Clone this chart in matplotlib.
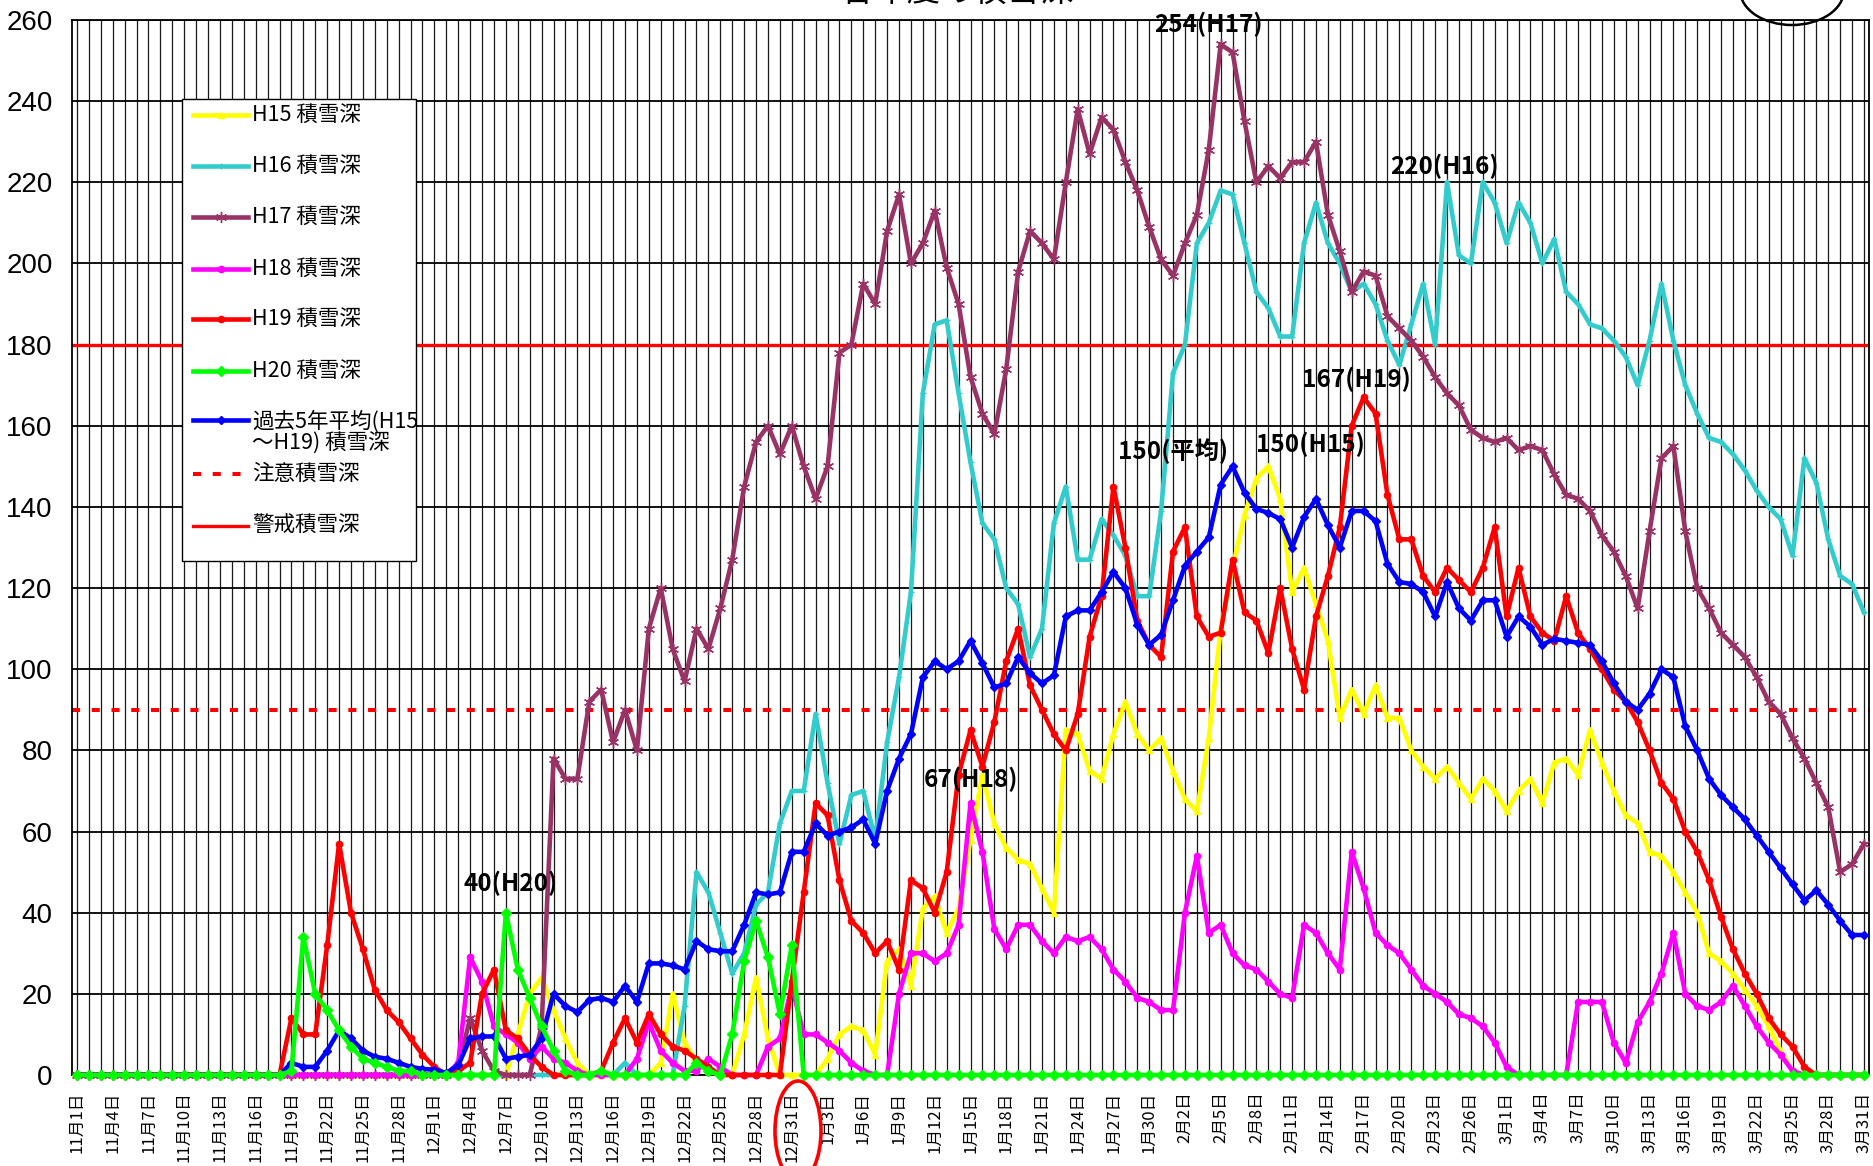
import matplotlib
matplotlib.use("Agg")
import matplotlib.pyplot as plt
import numpy as np
from matplotlib.patches import Ellipse, Rectangle
from matplotlib.lines import Line2D

plt.rcParams['font.family'] = ['Noto Sans CJK JP', 'DejaVu Sans']

# ---------------- data (cm), Nov 1 .. Mar 31 (151 days) ----------------
tick_labels = ["11月1日", "11月4日", "11月7日", "11月10日", "11月13日", "11月16日", "11月19日",
               "11月22日", "11月25日", "11月28日",
               "12月1日", "12月4日", "12月7日", "12月10日", "12月13日", "12月16日", "12月19日",
               "12月22日", "12月25日", "12月28日", "12月31日",
               "1月3日", "1月6日", "1月9日", "1月12日", "1月15日", "1月18日", "1月21日",
               "1月24日", "1月27日", "1月30日",
               "2月2日", "2月5日", "2月8日", "2月11日", "2月14日", "2月17日", "2月20日",
               "2月23日", "2月26日",
               "3月1日", "3月4日", "3月7日", "3月10日", "3月13日", "3月16日", "3月19日",
               "3月22日", "3月25日", "3月28日", "3月31日"]

h15_nov = [0] * 30
h15_dec = [0, 0, 0, 0, 0, 0, 0, 10, 20, 24, 16, 9, 3, 0, 0, 0, 0, 0, 0, 3, 20, 8, 3, 1, 0, 0, 10, 24, 9, 0, 0]
h15_jan = [0, 0, 4, 10, 12, 11, 5, 28, 31, 22, 41, 44, 35, 41, 58, 74, 62, 56, 53, 52, 46, 40, 85, 84, 75, 73,
           84, 92, 84, 80, 83]
h15_feb = [75, 68, 65, 83, 110, 125, 138, 147, 150, 142, 119, 125, 116, 107, 88, 95, 89, 96, 88, 88, 80, 76,
           73, 76, 72, 68, 73, 70]
h15_mar = [65, 70, 73, 67, 77, 78, 74, 85, 77, 70, 64, 62, 55, 54, 50, 45, 40, 30, 28, 25, 21, 17, 12, 6, 1,
           0, 0, 0, 0, 0, 0]

h16_nov = [0] * 30
h16_dec = [0, 0, 0, 0, 0, 0, 0, 0, 0, 0, 0, 0, 0, 0, 0, 0, 3, 0, 0, 0, 0, 17, 50, 45, 35, 25, 30, 42, 45, 62, 70]
h16_jan = [70, 89, 72, 57, 69, 70, 58, 82, 98, 119, 168, 185, 186, 168, 151, 136, 132, 120, 116, 103, 110,
           136, 145, 127, 127, 137, 133, 128, 118, 118, 139]
h16_feb = [173, 180, 205, 210, 218, 217, 205, 193, 189, 182, 182, 205, 215, 205, 200, 193, 195, 190, 181,
           175, 185, 195, 180, 220, 202, 200, 220, 215]
h16_mar = [205, 215, 210, 200, 206, 193, 190, 185, 184, 181, 177, 170, 181, 195, 181, 170, 163, 157, 156,
           153, 149, 144, 140, 137, 128, 152, 146, 132, 123, 121, 114]

h17_nov = [0] * 30
h17_dec = [0, 0, 2, 14, 6, 1, 0, 0, 0, 12, 78, 73, 73, 92, 95, 82, 90, 80, 110, 120, 105, 97, 110, 105, 115,
           127, 145, 156, 160, 153, 160]
h17_jan = [150, 142, 150, 178, 180, 195, 190, 208, 217, 200, 205, 213, 199, 190, 172, 163, 158, 174, 198,
           208, 205, 201, 220, 238, 227, 236, 233, 225, 218, 209, 201]
h17_feb = [197, 205, 212, 228, 254, 252, 235, 220, 224, 221, 225, 225, 230, 212, 203, 193, 198, 197, 187,
           184, 181, 177, 172, 168, 165, 159, 157, 156]
h17_mar = [157, 154, 155, 154, 148, 143, 142, 139, 133, 129, 123, 115, 134, 152, 155, 134, 120, 115, 109,
           106, 103, 98, 92, 89, 83, 78, 72, 66, 50, 52, 57]

h18_nov = [0] * 30
h18_dec = [0, 0, 3, 29, 23, 12, 10, 8, 4, 7, 4, 3, 1, 0, 0, 0, 0, 4, 13, 6, 3, 1, 1, 4, 2, 0, 0, 0, 7, 9, 22]
h18_jan = [10, 10, 8, 6, 3, 1, 0, 0, 20, 30, 30, 28, 30, 37, 67, 55, 36, 31, 37, 37, 33, 30, 34, 33, 34, 31,
           26, 23, 19, 18, 16]
h18_feb = [16, 40, 54, 35, 37, 30, 27, 26, 23, 20, 19, 37, 35, 30, 26, 55, 46, 35, 32, 30, 26, 22, 20, 18,
           15, 14, 12, 8]
h18_mar = [2, 0, 0, 0, 0, 0, 18, 18, 18, 8, 3, 13, 18, 25, 35, 20, 17, 16, 18, 22, 17, 12, 8, 5, 1,
           0, 0, 0, 0, 0, 0]

h19_nov = [0, 0, 0, 0, 0, 0, 0, 0, 0, 0, 0, 0, 0, 0, 0, 0, 0, 0, 14, 10, 10, 32, 57, 40, 31, 21, 16, 13, 9, 5]
h19_dec = [2, 0, 1, 3, 20, 26, 11, 9, 5, 2, 0, 0, 0, 0, 1, 8, 14, 8, 15, 10, 7, 6, 4, 2, 0, 0, 0, 0, 0, 0, 23]
h19_jan = [45, 67, 64, 48, 38, 35, 30, 33, 26, 48, 46, 40, 50, 74, 85, 76, 87, 102, 110, 96, 90, 84, 80, 89,
           108, 118, 145, 130, 112, 106, 103]
h19_feb = [129, 135, 113, 108, 109, 127, 114, 112, 104, 120, 105, 95, 113, 123, 135, 160, 167, 163, 143, 132,
           132, 123, 119, 125, 122, 119, 125, 135]
h19_mar = [113, 125, 113, 109, 107, 118, 109, 105, 100, 95, 92, 87, 80, 72, 68, 60, 55, 48, 39, 31, 25, 20,
           14, 10, 7, 2, 0, 0, 0, 0, 0]

h20_nov = [0, 0, 0, 0, 0, 0, 0, 0, 0, 0, 0, 0, 0, 0, 0, 0, 0, 0, 1, 34, 20, 16, 11, 7, 4, 3, 2, 1, 1, 0]
h20_dec = [0, 0, 0, 0, 0, 0, 40, 26, 19, 12, 6, 1, 0, 0, 1, 0, 0, 0, 0, 0, 0, 0, 3, 1, 0, 10, 28, 38, 29, 15, 32]
h20_jan = [0] * 31
h20_feb = [0] * 28
h20_mar = [0] * 31

avg_nov = [0, 0, 0, 0, 0, 0, 0, 0, 0, 0, 0, 0, 0, 0, 0, 0, 0, 0, 3, 2, 2, 6, 11, 9, 6, 4.5, 4, 3, 2, 1.5]
avg_dec = [1.3, 0.5, 2.4, 9, 9.5, 9.5, 4, 4.5, 5, 9, 20, 17, 15.5, 18.5, 19, 18, 22, 18, 27.5, 27.5, 27, 26,
           33, 31, 30.5, 30.5, 37, 45, 44.5, 45, 55]
avg_jan = [55, 62, 59, 60, 61, 63, 57, 70, 78, 84, 98, 102, 100, 102, 107, 101.5, 95.5, 96.5, 103, 99, 96.5,
           98.5, 113, 114.5, 114.5, 119, 124, 120, 111, 106, 108.5]
avg_feb = [117, 125.5, 129, 132.5, 145.5, 150, 143.5, 139.5, 138.5, 137, 130, 137.5, 142, 135.5, 130, 139,
           139, 136.5, 126, 121.5, 121, 119, 113, 121.5, 115, 112, 117, 117]
avg_mar = [108, 113, 110.5, 106, 107.5, 107, 106.5, 106, 102, 96.5, 92, 90, 94, 100, 98, 86, 80, 73, 69, 66,
           63, 59, 55, 51, 47, 43, 45.5, 42, 38, 34.5, 34.5]

caution_depth = 90
warning_depth = 180

h15 = h15_nov + h15_dec + h15_jan + h15_feb + h15_mar
h16 = h16_nov + h16_dec + h16_jan + h16_feb + h16_mar
h17 = h17_nov + h17_dec + h17_jan + h17_feb + h17_mar
h18 = h18_nov + h18_dec + h18_jan + h18_feb + h18_mar
h19 = h19_nov + h19_dec + h19_jan + h19_feb + h19_mar
h20 = h20_nov + h20_dec + h20_jan + h20_feb + h20_mar
avg = avg_nov + avg_dec + avg_jan + avg_feb + avg_mar

labels = ["H15 積雪深", "H16 積雪深", "H17 積雪深", "H18 積雪深", "H19 積雪深", "H20 積雪深",
          "過去5年平均(H15\n～H19) 積雪深", "注意積雪深", "警戒積雪深"]

annotations = [("254(H17)", 95.0, 259), ("220(H16)", 114.8, 224), ("167(H19)", 107.4, 171.3),
               ("150(平均)", 92.0, 153.8), ("150(H15)", 103.5, 155.5), ("67(H18)", 75.0, 72.9),
               ("40(H20)", 36.4, 47.1)]

# ---------------- figure ----------------
W, H = 1873, 1166
AX_L, AX_R, AX_T, AX_B = 72, 1869, 20, 1075
fig = plt.figure(figsize=(W / 100, H / 100), dpi=100)
ax = fig.add_axes([AX_L / W, (H - AX_B) / H, (AX_R - AX_L) / W, (AX_B - AX_T) / H])


def pax(px, py):
    """pixel position (from top-left of figure) -> axes fraction"""
    return (px - AX_L) / (AX_R - AX_L), (AX_B - py) / (AX_B - AX_T)


x = np.arange(len(h15))
styles = [
    (h15, '#FFFF00', '^', 5),
    (h16, '#33CCCC', '+', 5),
    (h17, '#993366', (6, 2, 0), 8),
    (h18, '#FF00FF', 'o', 4.5),
    (h19, '#FF0000', 'o', 4.5),
    (avg, '#0000FF', 'D', 4),
    (h20, '#00FF00', 'D', 5),
]
for i, (vals, col, mk, ms) in enumerate(styles):
    ax.plot(x, vals, color=col, lw=3.3, marker=mk, ms=ms, mfc=col, mec=col, mew=1.0,
            clip_on=False, zorder=3 + i, solid_joinstyle='round')

ax.axhline(caution_depth, color='#FF0000', lw=2.9, ls=(0, (2.0, 2.9)), zorder=2.5)
ax.axhline(warning_depth, color='#FF0000', lw=2.4, zorder=2.5)

ax.set_xlim(-0.42, 150.42)
ax.set_ylim(0, 260)
ax.set_xticks(np.arange(0, 151, 3))
ax.set_xticklabels(tick_labels, rotation=90, fontsize=12, va='top', ha='center')
ax.set_xticks(np.arange(0, 151, 1), minor=True)
ax.set_yticks(np.arange(0, 261, 20))
ax.set_yticklabels([str(v) for v in range(0, 261, 20)],
                   fontsize=20, family=['Liberation Sans Narrow', 'Liberation Sans', 'DejaVu Sans'])
ax.tick_params(axis='x', which='both', length=0, pad=12)
ax.tick_params(axis='y', length=0, pad=14)
ax.grid(axis='x', which='both', color='#1a1a1a', lw=0.9)
ax.grid(axis='y', which='major', color='black', lw=1.3)
ax.set_axisbelow(True)
for sp in ax.spines.values():
    sp.set_color('black')
    sp.set_linewidth(1.3)

for txt, xv, yv in annotations:
    ax.text(xv, yv, txt, ha='center', va='center', fontsize=17.5, fontweight='bold',
            family=['Liberation Sans Narrow', 'Noto Sans CJK JP'], zorder=20)

# ---------------- legend (drawn by hand to mimic layout) ----------------
x0, y0 = pax(182, 99)
x1, y1 = pax(416, 561)
ax.add_patch(Rectangle((x0, y1), x1 - x0, y0 - y1, transform=ax.transAxes, fc='white', ec='black',
                       lw=1.0, zorder=30, clip_on=False))
leg_styles = [styles[0], styles[1], styles[2], styles[3], styles[4], styles[6], styles[5]]
row_y = [115, 166, 217, 269, 319, 371, 420, 474, 526]
for k, lab in enumerate(labels):
    yy = row_y[k]
    ha0 = pax(193, yy)
    ha1 = pax(248, yy)
    if k < 7:
        vals, col, mk, ms = leg_styles[k]
        ax.add_line(Line2D([ha0[0], ha1[0]], [ha0[1], ha1[1]], transform=ax.transAxes, color=col,
                           lw=3.3, zorder=31, clip_on=False))
        ax.add_line(Line2D([(ha0[0] + ha1[0]) / 2], [ha0[1]], transform=ax.transAxes, color=col,
                           marker=mk, ms=ms, mfc=col, mec=col, ls='none', zorder=32, clip_on=False))
    elif k == 7:
        ax.add_line(Line2D([ha0[0], ha1[0]], [ha0[1], ha1[1]], transform=ax.transAxes, color='#FF0000',
                           lw=2.9, ls=(0, (2.0, 2.9)), zorder=31, clip_on=False))
    else:
        ax.add_line(Line2D([ha0[0], ha1[0]], [ha0[1], ha1[1]], transform=ax.transAxes, color='#FF0000',
                           lw=2.4, zorder=31, clip_on=False))
    tp = pax(252, yy)
    if '\n' in lab:
        tp = pax(252, yy - 10)
        ax.text(tp[0], tp[1], lab, transform=ax.transAxes, ha='left', va='top', fontsize=15.5,
                linespacing=1.02, zorder=33)
    else:
        ax.text(tp[0], tp[1], lab, transform=ax.transAxes, ha='left', va='center', fontsize=15.5,
                zorder=33)

# ---------------- decorations ----------------
fig.add_artist(Ellipse((798 / W, 1 - 1131 / H), 46 / W, 100 / H, fill=False, ec='#FF0000', lw=2.6,
                       transform=fig.transFigure))
fig.add_artist(Ellipse((1792 / W, 1 + 10 / H), 104 / W, 70 / H, fill=False, ec='black', lw=1.8,
                       transform=fig.transFigure))
fig.text(957 / W, 1 + 9 / H, "各年度の積雪深", ha='center', va='center', fontsize=24)

fig.savefig("out.png", dpi=100)
